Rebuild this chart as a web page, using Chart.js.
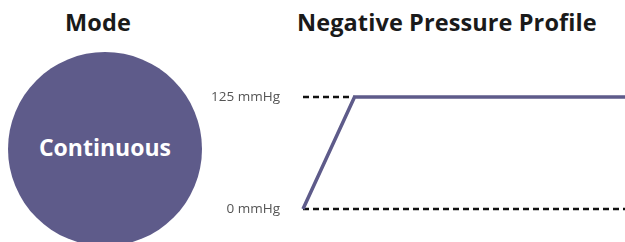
<!DOCTYPE html>
<html>
<head>
    <title>Negative Pressure Profile</title>
    <script src="https://cdn.jsdelivr.net/npm/chart.js"></script>
    <style>
        html, body { margin: 0; padding: 0; background: #fff; }
        body { width: 625px; height: 242px; position: relative; overflow: hidden; font-family: "Open Sans", sans-serif; }
        .title { position: absolute; top: 7px; font-weight: bold; font-size: 23.5px; color: #1a1a1a; white-space: nowrap; line-height: 30px; letter-spacing: 0.1px; }
        #modeCircle { position: absolute; left: 8px; top: 52px; width: 194px; height: 194px; border-radius: 50%;
            background: #5e5b8a; color: #fff; font-weight: bold; font-size: 23px;
            display: flex; align-items: center; justify-content: center; }
        #profileChart { position: absolute; left: 0; top: 0; }
    </style>
</head>
<body>
    <div class="title" style="left:65px;">Mode</div>
    <div class="title" style="left:297px;">Negative Pressure Profile</div>
    <div id="modeCircle"><span style="margin-top:-4px;">Continuous</span></div>
    <canvas id="profileChart" width="625" height="242"></canvas>

    <script>
        // pressure profile: ramp up from 0 to target, then hold
        const timeValues = [0, 1.6, 10];
        const pressureValues = [0, 125, 125];
        const targetPressure = 125;
        const tickValues = [0, 125];
        const tickLabels = ['0 mmHg', '125 mmHg'];

        const purple = '#5e5b8a';

        const profile = timeValues.map((t, i) => ({ x: t, y: pressureValues[i] }));
        // dashed guides: target level up to end of ramp, and the zero baseline
        const targetGuide = [{ x: timeValues[0], y: targetPressure }, { x: timeValues[1], y: targetPressure }];
        const zeroGuide = [{ x: timeValues[0], y: 0 }, { x: timeValues[timeValues.length - 1], y: 0 }];

        const ctx = document.getElementById('profileChart').getContext('2d');
        const chart = new Chart(ctx, {
            type: 'line',
            data: {
                datasets: [
                    {
                        data: profile,
                        borderColor: purple,
                        borderWidth: 3.5,
                        pointRadius: 0,
                        fill: false,
                        order: 0
                    },
                    {
                        data: targetGuide,
                        borderColor: '#111',
                        borderWidth: 2.5,
                        borderDash: [6, 4],
                        pointRadius: 0,
                        fill: false,
                        order: 1
                    },
                    {
                        data: zeroGuide,
                        borderColor: '#111',
                        borderWidth: 2.5,
                        borderDash: [6, 4],
                        pointRadius: 0,
                        fill: false,
                        order: 1
                    }
                ]
            },
            options: {
                responsive: false,
                animation: false,
                clip: false,
                layout: { padding: { left: 0, right: 0, top: 97, bottom: 33 } },
                plugins: { legend: { display: false }, tooltip: { enabled: false } },
                scales: {
                    x: {
                        type: 'linear',
                        min: 0,
                        max: 10,
                        display: false
                    },
                    y: {
                        min: 0,
                        max: 125,
                        grid: { display: false, drawTicks: false },
                        border: { display: false },
                        afterFit: scale => { scale.width = 303; },
                        afterBuildTicks: scale => { scale.ticks = tickValues.map(v => ({ value: v })); },
                        ticks: {
                            padding: 23,
                            color: '#555',
                            font: { family: 'Open Sans', size: 13.5 },
                            callback: value => tickLabels[tickValues.indexOf(value)]
                        }
                    }
                }
            }
        });
    </script>
</body>
</html>
